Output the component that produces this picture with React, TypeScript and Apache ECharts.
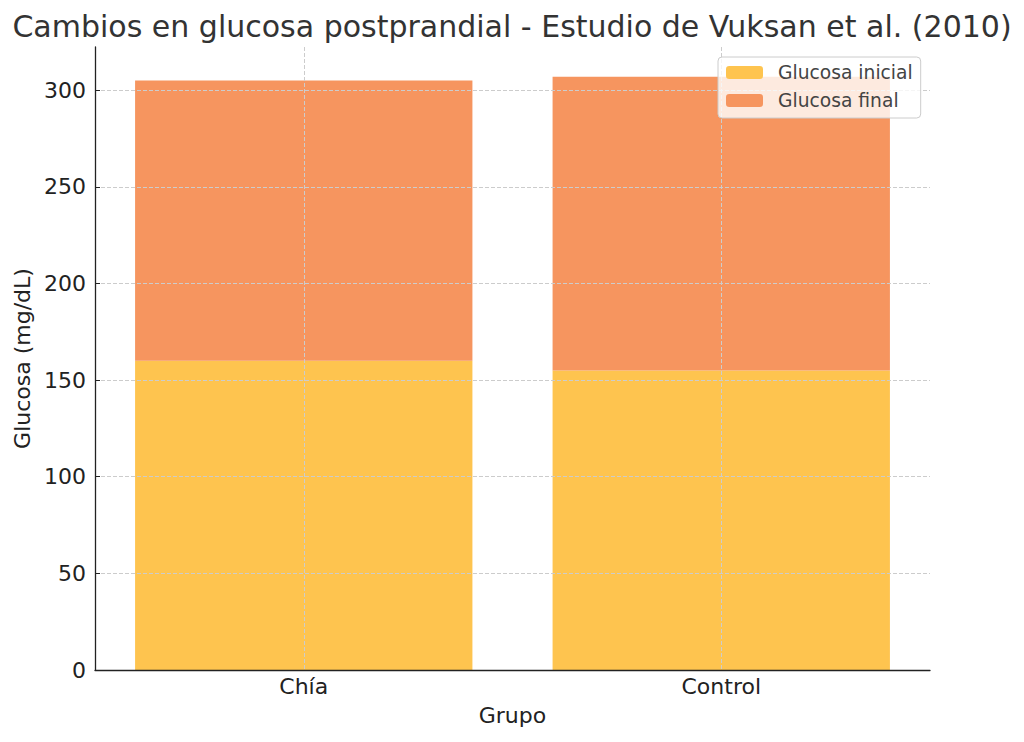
import * as echarts from 'echarts';
import { useEffect, useRef } from 'react';

const groups = ['Chía', 'Control'];
const glucosaInicial = [160, 155];
const glucosaFinal = [145, 152];
const yTicks = [0, 50, 100, 150, 200, 250, 300];

const FONT = 'DejaVu Sans';

export default function App() {
  const containerRef = useRef<HTMLDivElement>(null);

  useEffect(() => {
    const chart = echarts.init(containerRef.current!, null, { renderer: 'svg' });
    const gridLine = { show: true, lineStyle: { color: '#cccccc', width: 1, type: [4, 2] } };
    chart.setOption({
      animation: false,
      backgroundColor: '#ffffff',
      textStyle: { fontFamily: FONT },
      title: {
        text: 'Cambios en glucosa postprandial - Estudio de Vuksan et al. (2010)',
        left: 'center',
        top: 6,
        textStyle: { fontFamily: FONT, fontSize: 30, fontWeight: 'normal', color: '#333333' },
      },
      legend: {
        orient: 'vertical',
        left: 718,
        top: 57,
        itemWidth: 37,
        itemHeight: 13,
        itemGap: 9,
        padding: [6, 8, 8, 8],
        backgroundColor: 'rgba(255,255,255,0.8)',
        borderColor: '#cccccc',
        borderWidth: 1,
        borderRadius: 4,
        textStyle: { fontFamily: FONT, fontSize: 18.7, color: '#444444', padding: [0, 0, 0, 10] },
        data: ['Glucosa inicial', 'Glucosa final'],
      },
      grid: { left: 95, right: 94, top: 47, bottom: 72 },
      xAxis: {
        type: 'category',
        data: groups,
        z: 3,
        name: 'Grupo',
        nameLocation: 'middle',
        nameGap: 34,
        nameTextStyle: { fontFamily: FONT, fontSize: 22, color: '#222222' },
        axisLine: { lineStyle: { color: '#222222', width: 1.3 } },
        axisTick: { inside: true, length: 5, alignWithLabel: true, lineStyle: { color: '#222222' } },
        axisLabel: { fontFamily: FONT, fontSize: 22, color: '#222222', margin: 5 },
        splitLine: { ...gridLine, alignWithLabel: true },
      },
      yAxis: {
        type: 'value',
        min: 0,
        max: 322.35,
        interval: 50,
        z: 3,
        name: 'Glucosa (mg/dL)',
        nameLocation: 'middle',
        nameGap: 57,
        nameTextStyle: { fontFamily: FONT, fontSize: 22, color: '#222222' },
        axisLine: { show: true, lineStyle: { color: '#222222', width: 1.3 } },
        axisTick: { show: true, inside: true, length: 5, lineStyle: { color: '#222222' }, customValues: yTicks },
        axisLabel: { fontFamily: FONT, fontSize: 22, color: '#222222', margin: 9, customValues: yTicks },
        splitLine: gridLine,
      },
      series: [
        {
          name: 'Glucosa inicial',
          type: 'bar',
          stack: 'g',
          barWidth: '80.8%',
          itemStyle: { color: '#fec44f' },
          data: glucosaInicial,
        },
        {
          name: 'Glucosa final',
          type: 'bar',
          stack: 'g',
          barWidth: '80.8%',
          itemStyle: { color: '#f6955f' },
          data: glucosaFinal,
        },
      ],
    });
    return () => chart.dispose();
  }, []);

  return <div ref={containerRef} style={{ width: 1024, height: 742, margin: -8 }} />;
}
